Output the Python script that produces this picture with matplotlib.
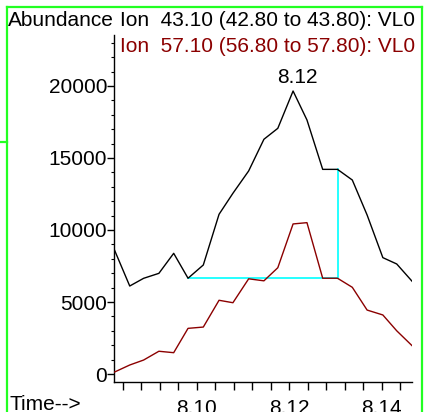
import matplotlib
matplotlib.use("Agg")
import matplotlib.pyplot as plt
from matplotlib.lines import Line2D
from matplotlib.ticker import MultipleLocator, FormatStrFormatter

# retention time (min) of each scan
times = [8.0819, 8.0855, 8.0885, 8.0918, 8.0950, 8.0981, 8.1014, 8.1048,
         8.1078, 8.1112, 8.1145, 8.1175, 8.1208, 8.1238, 8.1272, 8.1304,
         8.1336, 8.1368, 8.1402, 8.1432, 8.1466]

# ion 43.10
ion43 = [8840, 6110, 6645, 6990, 8380, 6650, 7570, 11090, 12550, 14100,
         16300, 17060, 19650, 17640, 14210, 14210, 13470, 11040, 8080, 7640, 6410]

# ion 57.10
ion57 = [90, 625, 970, 1580, 1480, 3170, 3260, 5120, 4950, 6610,
         6470, 7380, 10420, 10510, 6650, 6650, 6020, 4440, 4100, 3000, 1940]

title_43 = "Ion  43.10 (42.80 to 43.80): VL0"
title_57 = "Ion  57.10 (56.80 to 57.80): VL0"
peak_label = "8.12"

# integration baseline: start and end scans
base_start = 5
base_end = 15

plt.rcParams['font.family'] = ['Liberation Sans', 'DejaVu Sans']
fs = 15
dark_red = '#8b0000'

fig = plt.figure(figsize=(4.25, 4.12), dpi=100)
ax = fig.add_axes([114 / 425, 30 / 412, 298 / 425, 347 / 412])

ax.plot([times[base_start], times[base_end], times[base_end]],
        [ion43[base_start], ion57[base_end], ion43[base_end]],
        color='#00ffff', lw=1.2, zorder=1)
ax.plot(times, ion43, color='black', lw=1.0, zorder=2)
ax.plot(times, ion57, color=dark_red, lw=1.0, zorder=3)

ipk = ion43.index(max(ion43))
ax.annotate(peak_label, (times[ipk], ion43[ipk]), xytext=(3, 3),
            textcoords='offset points', ha='center', va='bottom', fontsize=fs)

ax.set_xlim(8.0821, 8.1465)
ax.set_ylim(-555, 23540)

for side in ['top', 'right']:
    ax.spines[side].set_visible(False)
for side in ['left', 'bottom']:
    ax.spines[side].set_linewidth(1.0)

ax.xaxis.set_major_locator(MultipleLocator(0.02))
ax.xaxis.set_minor_locator(MultipleLocator(0.004))
ax.xaxis.set_major_formatter(FormatStrFormatter('%.2f'))
ax.yaxis.set_major_locator(MultipleLocator(5000))
ax.yaxis.set_minor_locator(MultipleLocator(1000))

ax.tick_params(axis='x', which='both', length=6, width=1.0, pad=6, labelsize=fs)
ax.tick_params(axis='y', which='major', length=5, width=1.0, pad=0, labelsize=fs)
ax.tick_params(axis='y', which='minor', length=2.5, width=0.8)

fig.text(8 / 425, 1 - 20 / 412, "Abundance", fontsize=fs, ha='left', va='center')
fig.text(120 / 425, 1 - 20 / 412, title_43, fontsize=fs, ha='left', va='center')
fig.text(120 / 425, 1 - 46 / 412, title_57, fontsize=fs, ha='left', va='center',
         color=dark_red)
fig.text(9 / 425, 1 - 404 / 412, "Time-->", fontsize=fs, ha='left', va='center')

# green frame
green = '#22ff22'
W, H = 425, 412
frame = [
    ([7, 7], [H, 7]),
    ([7, 422], [7, 7]),
    ([422, 422], [7, H]),
    ([0, 7], [142, 142]),
]
for xs, ys in frame:
    fig.add_artist(Line2D([x / W for x in xs], [1 - y / H for y in ys],
                          transform=fig.transFigure, color=green, lw=1.6))

fig.savefig("out.png", dpi=100)
